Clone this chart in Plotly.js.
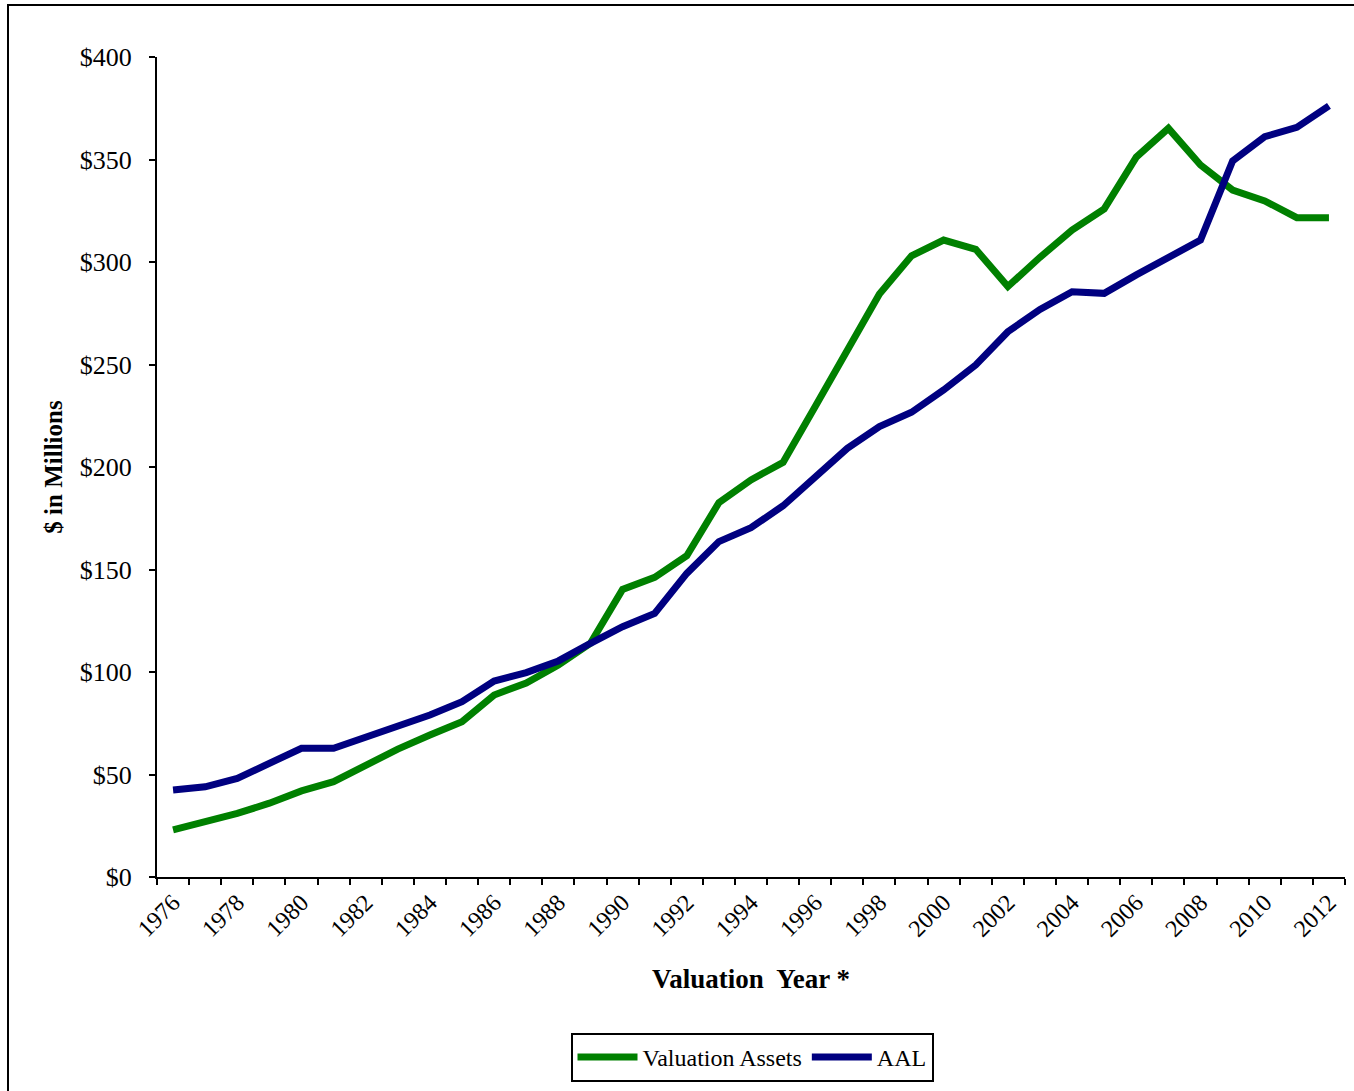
<!DOCTYPE html>
<html>
<head>
<meta charset="utf-8">
<script src="https://cdn.plot.ly/plotly-3.0.1.min.js"></script>
<style>
html, body { margin: 0; padding: 0; background: #fff; }
#chart { width: 1354px; height: 1091px; }
</style>
</head>
<body>
<div id="chart"></div>
<script>
const years = [1976,1977,1978,1979,1980,1981,1982,1983,1984,1985,1986,1987,1988,1989,1990,1991,1992,1993,1994,1995,1996,1997,1998,1999,2000,2001,2002,2003,2004,2005,2006,2007,2008,2009,2010,2011,2012];
const valuationAssets = [23,27,31,36,42,46.5,54.5,62.4,69.3,75.8,88.8,94.6,103.4,114,140.3,146.2,156.7,182.6,193.7,202.3,229.5,256.5,284.4,303,310.7,306.2,288,302.3,315.6,325.9,351.2,365.2,347.3,335.1,329.8,321.6,321.6];
const aal = [42.4,44,48.1,55.4,62.8,62.8,68.1,73.3,79,85.5,95.6,99.7,105.4,114,122.1,128.6,148.1,163.6,170.4,181.1,194.9,209.1,219.7,226.7,237.6,249.8,266,276.9,285.5,284.7,293.7,302.1,310.7,349.3,361.1,365.7,376.2];
const tickYears = [1976,1978,1980,1982,1984,1986,1988,1990,1992,1994,1996,1998,2000,2002,2004,2006,2008,2010,2012];
const tickLabels = tickYears.map(String);
const yTickVals = [0,50,100,150,200,250,300,350,400];
const yTickLabels = ['$0','$50','$100','$150','$200','$250','$300','$350','$400'];

const W = 1354, H = 1091;
const M = {l: 157, r: 9, t: 57, b: 214};
const pw = W - M.l - M.r, ph = H - M.t - M.b;
const px = v => (v - M.l) / pw;
const py = v => (H - M.b - v) / ph;

const font = 'Liberation Serif, Times New Roman, serif';

const traces = [
  {x: years, y: valuationAssets, name: 'Valuation Assets', type: 'scatter', mode: 'lines',
   line: {color: '#008000', width: 7}},
  {x: years, y: aal, name: 'AAL', type: 'scatter', mode: 'lines',
   line: {color: '#000080', width: 7}}
];

const layout = {
  width: W, height: H,
  margin: M,
  paper_bgcolor: '#fff', plot_bgcolor: '#fff',
  font: {family: font, color: '#000', size: 24},
  showlegend: true,
  legend: {
    orientation: 'h', x: px(752), xanchor: 'center', y: py(1033), yanchor: 'top',
    bordercolor: '#000', borderwidth: 2, font: {family: font, size: 24, color: '#000'},
    bgcolor: '#fff', itemwidth: 60
  },
  xaxis: {
    range: [1975.5, 2012.5],
    tickmode: 'array', tickvals: tickYears, ticktext: tickLabels,
    tickangle: -45, ticks: '', showgrid: false, zeroline: false,
    showline: true, linecolor: '#000', linewidth: 2,
    tickfont: {family: font, size: 24, color: '#000'},
    minor: {tick0: 1975.5, dtick: 1, ticks: 'outside', ticklen: 6, tickcolor: '#000', tickwidth: 2, showgrid: false},
    title: {text: '<b>Valuation  Year *</b>', font: {family: font, size: 27, color: '#000'}, standoff: 28}
  },
  yaxis: {
    range: [0, 400], tickmode: 'array', tickvals: yTickVals, ticktext: yTickLabels,
    ticks: 'outside', ticklen: 6, tickwidth: 2, tickcolor: '#000',
    showgrid: false, zeroline: false, showline: true, linecolor: '#000', linewidth: 2,
    tickfont: {family: font, size: 26, color: '#000'},
    ticklabelstandoff: 12,
    title: {text: '<b>$ in Millions</b>', font: {family: font, size: 25, color: '#000'}, standoff: 10}
  },
  shapes: [
    {type: 'rect', xref: 'paper', yref: 'paper', x0: px(8), x1: px(1365), y0: py(1100), y1: py(5),
     line: {color: '#000', width: 2}, fillcolor: 'rgba(0,0,0,0)', layer: 'below'}
  ]
};

Plotly.newPlot('chart', traces, layout, {displayModeBar: false, staticPlot: true});
</script>
</body>
</html>
